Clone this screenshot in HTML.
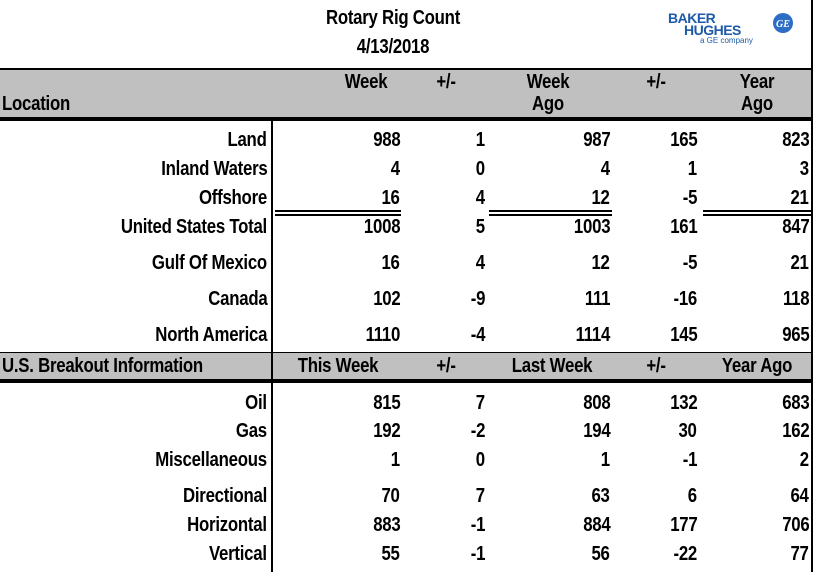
<!DOCTYPE html>
<html><head><meta charset="utf-8"><style>
body{margin:0;background:#fff;}
#root{position:relative;width:813px;height:572px;overflow:hidden;font-family:"Liberation Sans",sans-serif;font-weight:bold;color:#000;}
.t{position:absolute;font-size:20px;letter-spacing:-0.3px;line-height:20px;white-space:nowrap;transform:scaleX(0.84);}
.ln{position:absolute;background:#000;}
</style></head><body>
<div id="root">
<div class="t" style="left:293px;top:8px;width:200px;text-align:center;transform-origin:center;">Rotary Rig Count</div>
<div class="t" style="left:293px;top:37px;width:200px;text-align:center;transform-origin:center;">4/13/2018</div>
<div style="position:absolute;left:668px;top:12px;color:#1d5aa8;font-family:'Liberation Sans',sans-serif;">
 <div style="font-size:14px;line-height:12px;font-weight:900;letter-spacing:-0.5px;">BAKER</div>
 <div style="font-size:14px;line-height:12px;font-weight:900;letter-spacing:-0.5px;padding-left:16px;">HUGHES</div>
 <div style="font-size:8px;line-height:10px;font-weight:normal;padding-left:32px;">a GE company</div>
</div>
<svg style="position:absolute;left:772px;top:12px" width="22" height="22"><circle cx="11" cy="11" r="10" fill="#2d6ec4"/><text x="11" y="15" text-anchor="middle" font-size="10" font-style="italic" fill="#fff" font-family="Liberation Serif">GE</text></svg>
<div class="ln" style="left:811px;top:0;width:2px;height:572px;"></div>
<div style="position:absolute;left:0;top:68px;width:811px;height:49px;background:#c0c0c0;border-top:2px solid #000;"></div>
<div class="ln" style="left:0;top:117px;width:813px;height:4px;"></div>
<div style="position:absolute;left:0;top:352px;width:811px;height:27px;background:#c0c0c0;border-top:1px solid #000;"></div>
<div class="ln" style="left:0;top:379px;width:813px;height:4px;"></div>
<div class="ln" style="left:271px;top:121px;width:2px;height:451px;"></div>
<div class="ln" style="left:275px;top:210px;width:126px;height:2px;"></div>
<div class="ln" style="left:275px;top:214px;width:126px;height:2px;"></div>
<div class="ln" style="left:489px;top:210px;width:123px;height:2px;"></div>
<div class="ln" style="left:489px;top:214px;width:123px;height:2px;"></div>
<div class="ln" style="left:703px;top:210px;width:110px;height:2px;"></div>
<div class="ln" style="left:703px;top:214px;width:110px;height:2px;"></div>
</div>
<script>
const root=document.getElementById('root');
const colRight=[267,400,485,610,697,809];
const rows=[
['Land','988','1','987','165','823',130],
['Inland Waters','4','0','4','1','3',159],
['Offshore','16','4','12','-5','21',188],
['United States Total','1008','5','1003','161','847',217],
['Gulf Of Mexico','16','4','12','-5','21',253],
['Canada','102','-9','111','-16','118',289],
['North America','1110','-4','1114','145','965',325],
['Oil','815','7','808','132','683',393],
['Gas','192','-2','194','30','162',421],
['Miscellaneous','1','0','1','-1','2',450],
['Directional','70','7','63','6','64',486],
['Horizontal','883','-1','884','177','706',515],
['Vertical','55','-1','56','-22','77',544]];
function put(txt,x,y,align,name){
 const d=document.createElement('div');
 d.className='t';
 d.textContent=txt;
 
 
 if(align==='l'){d.style.left=x+'px';d.style.transformOrigin='left center';}
 else if(align==='c'){d.style.left=(x-80)+'px';d.style.width='160px';d.style.textAlign='center';d.style.transformOrigin='center';}
 else{d.style.right=(813-x)+'px';d.style.transformOrigin='right center';}
 d.style.top=y+'px';
 root.appendChild(d);
}
put('Location',2,94,'l','header-location');
const hc=[[366,'Week',72],[446,'+/-',72],[548,'Week',72],[656,'+/-',72],[757,'Year',72],[548,'Ago',94],[757,'Ago',94]];
hc.forEach(h=>put(h[1],h[0],h[2],'c','column-header'));
const bh=[['U.S. Breakout Information',2,'l'],['This Week',338,'c'],['+/-',446,'c'],['Last Week',552,'c'],['+/-',656,'c'],['Year Ago',757,'c']];
bh.forEach(h=>put(h[0],h[1],356,h[2],'breakout-header'));
rows.forEach(r=>{
 for(let i=0;i<6;i++){
  put(r[i],colRight[i],r[6],'r',i===0?'row-label':'cell-value');
 }
});
</script>
</body></html>
